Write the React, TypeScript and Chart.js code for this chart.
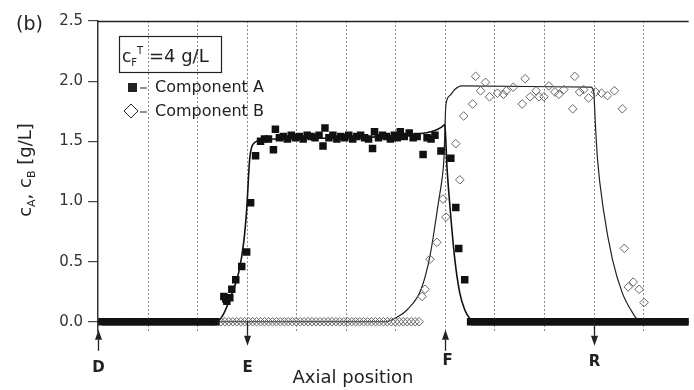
import React, { useEffect, useRef } from "react";
import { Chart, registerables } from "chart.js";

Chart.register(...registerables);

// Axis ranges (x in axial-position units, one unit per grid column)
const X_MIN = 0;
const X_MAX = 11.92;
const Y_MIN = -0.085;
const Y_MAX = 2.5;
const yTickValues = [0, 0.5, 1.0, 1.5, 2.0, 2.5];
const xGridValues = [1, 2, 3, 4, 5, 6, 7, 8, 9, 10, 11];

// Port markers below the axis
const portLabels = ["D", "E", "F", "R"];
const portPositions = [0, 3, 7, 10];
const portDirections = ["up", "down", "up", "down"];

// Component A measurements: zero readings ahead of and behind the band
const aZeroLeftX = [0.08, 0.16, 0.24, 0.32, 0.4, 0.48, 0.56, 0.64, 0.72, 0.8, 0.88, 0.96, 1.04, 1.12, 1.2, 1.28, 1.36, 1.44, 1.52, 1.6, 1.68, 1.76, 1.84, 1.92, 2.0, 2.08, 2.16, 2.24, 2.32, 2.38];
const aZeroRightX = [7.52, 7.6, 7.68, 7.76, 7.84, 7.92, 8.0, 8.08, 8.16, 8.24, 8.32, 8.4, 8.48, 8.56, 8.64, 8.72, 8.8, 8.88, 8.96, 9.04, 9.12, 9.2, 9.28, 9.36, 9.44, 9.52, 9.6, 9.68, 9.76, 9.84, 9.92, 10.0, 10.08, 10.16, 10.24, 10.32, 10.4, 10.48, 10.56, 10.64, 10.72, 10.8, 10.88, 10.96, 11.04, 11.12, 11.2, 11.28, 11.36, 11.44, 11.52, 11.6, 11.68, 11.76, 11.84, 11.92];
// Component A measurements inside the band
const aBandX = [2.54, 2.58, 2.6, 2.66, 2.7, 2.78, 2.9, 3.0, 3.08, 3.18, 3.28, 3.36, 3.44, 3.54, 3.58, 3.66, 3.74, 3.82, 3.9, 3.98, 4.06, 4.14, 4.22, 4.3, 4.38, 4.46, 4.54, 4.58, 4.66, 4.74, 4.82, 4.9, 4.98, 5.06, 5.14, 5.22, 5.3, 5.38, 5.46, 5.54, 5.58, 5.66, 5.74, 5.82, 5.9, 5.98, 6.04, 6.1, 6.18, 6.28, 6.36, 6.44, 6.56, 6.64, 6.72, 6.8, 6.92, 7.12, 7.22, 7.28, 7.4];
const aBandY = [0.21, 0.19, 0.17, 0.2, 0.27, 0.35, 0.46, 0.58, 0.99, 1.38, 1.5, 1.52, 1.52, 1.43, 1.6, 1.53, 1.54, 1.52, 1.55, 1.53, 1.54, 1.52, 1.55, 1.54, 1.53, 1.55, 1.46, 1.61, 1.53, 1.55, 1.52, 1.54, 1.53, 1.55, 1.52, 1.54, 1.55, 1.53, 1.52, 1.44, 1.58, 1.53, 1.55, 1.54, 1.52, 1.55, 1.53, 1.58, 1.54, 1.57, 1.53, 1.54, 1.39, 1.53, 1.52, 1.55, 1.42, 1.36, 0.95, 0.61, 0.35];

// Component B measurements
const bZeroX = [2.48, 2.56, 2.64, 2.72, 2.8, 2.88, 2.96, 3.04, 3.12, 3.2, 3.28, 3.36, 3.44, 3.52, 3.6, 3.68, 3.76, 3.84, 3.92, 4.0, 4.08, 4.16, 4.24, 4.32, 4.4, 4.48, 4.56, 4.64, 4.72, 4.8, 4.88, 4.96, 5.04, 5.12, 5.2, 5.28, 5.36, 5.44, 5.52, 5.6, 5.68, 5.76, 5.84, 5.92, 6.0, 6.08, 6.16, 6.24, 6.32, 6.4, 6.48];
const bBandX = [6.54, 6.6, 6.7, 6.84, 6.96, 7.02, 7.22, 7.3, 7.38, 7.56, 7.62, 7.72, 7.82, 7.9, 8.06, 8.18, 8.24, 8.38, 8.56, 8.62, 8.72, 8.84, 8.9, 9.0, 9.1, 9.22, 9.3, 9.4, 9.58, 9.62, 9.72, 9.8, 9.9, 10.04, 10.16, 10.28, 10.42, 10.58, 10.62, 10.7, 10.8, 10.92, 11.02];
const bBandY = [0.21, 0.27, 0.52, 0.66, 1.02, 0.87, 1.48, 1.18, 1.71, 1.81, 2.04, 1.92, 1.99, 1.87, 1.9, 1.89, 1.92, 1.95, 1.81, 2.02, 1.87, 1.92, 1.87, 1.87, 1.96, 1.91, 1.89, 1.93, 1.77, 2.04, 1.91, 1.93, 1.86, 1.91, 1.9, 1.88, 1.92, 1.77, 0.61, 0.29, 0.33, 0.27, 0.16];

// Model profiles
const aModelX = [0, 2.34, 2.46, 2.54, 2.68, 2.84, 2.94, 3.0, 3.06, 3.1, 3.16, 3.28, 3.64, 5.04, 6.44, 6.8, 6.94, 7.0, 7.04, 7.08, 7.2, 7.3, 7.4, 7.5, 7.6, 11.92];
const aModelY = [0, 0, 0.02, 0.07, 0.21, 0.41, 0.66, 0.93, 1.35, 1.45, 1.49, 1.51, 1.52, 1.53, 1.56, 1.59, 1.62, 1.64, 1.3, 1.07, 0.52, 0.24, 0.1, 0.03, 0, 0];
const bModelX = [0, 5.8, 6.04, 6.24, 6.52, 6.7, 6.88, 6.94, 6.98, 7.02, 7.1, 7.2, 7.34, 9.94, 10.0, 10.04, 10.08, 10.2, 10.38, 10.58, 10.78, 10.94, 11.92];
const bModelY = [0, 0, 0.04, 0.1, 0.27, 0.55, 1.02, 1.18, 1.35, 1.8, 1.88, 1.93, 1.96, 1.95, 1.92, 1.62, 1.35, 0.93, 0.52, 0.24, 0.08, 0, 0];

const FONT = "'DejaVu Sans', sans-serif";
const INK = "#222";

type Part = { t: string; size: number; dy?: number; bold?: boolean };

function richWidth(ctx: CanvasRenderingContext2D, parts: Part[]) {
  let w = 0;
  for (const p of parts) {
    ctx.font = `${p.bold ? "bold " : ""}${p.size}px ${FONT}`;
    w += ctx.measureText(p.t).width;
  }
  return w;
}

function drawRich(ctx: CanvasRenderingContext2D, parts: Part[], x: number, y: number, align: "left" | "center") {
  let cx = align === "center" ? x - richWidth(ctx, parts) / 2 : x;
  ctx.textAlign = "left";
  ctx.textBaseline = "alphabetic";
  for (const p of parts) {
    ctx.font = `${p.bold ? "bold " : ""}${p.size}px ${FONT}`;
    ctx.fillText(p.t, cx, y + (p.dy || 0));
    cx += ctx.measureText(p.t).width;
  }
}

const zip = (xs: number[], ys: number[]) => xs.map((x, i) => ({ x, y: ys[i] }));
const zeros = (xs: number[]) => xs.map((x) => ({ x, y: 0 }));

const decorPlugin = {
  id: "decor",
  beforeDatasetsDraw(chart: any) {
    const { ctx, chartArea, scales } = chart;
    const xs = scales.x;
    ctx.save();
    ctx.strokeStyle = "#8a8a8a";
    ctx.lineWidth = 1;
    ctx.setLineDash([2, 2]);
    for (const v of xGridValues) {
      const px = Math.round(xs.getPixelForValue(v)) + 0.5;
      ctx.beginPath();
      ctx.moveTo(px, chartArea.top);
      ctx.lineTo(px, chartArea.bottom);
      ctx.stroke();
    }
    ctx.restore();
  },
  afterDraw(chart: any) {
    const { ctx, chartArea, scales } = chart;
    const xs = scales.x;
    const ys = scales.y;
    ctx.save();
    ctx.fillStyle = INK;
    ctx.strokeStyle = INK;

    // frame line along the top of the plot
    const topY = Math.round(ys.getPixelForValue(Y_MAX)) + 0.5;
    ctx.lineWidth = 1.5;
    ctx.beginPath();
    ctx.moveTo(chartArea.left, topY);
    ctx.lineTo(chartArea.right, topY);
    ctx.stroke();

    // panel letter
    ctx.font = `19px ${FONT}`;
    ctx.textAlign = "left";
    ctx.textBaseline = "middle";
    ctx.fillText("(b)", 16, 25);

    // feed concentration box
    ctx.lineWidth = 1.2;
    ctx.strokeRect(119.5, 36.5, 102, 36);
    drawRich(ctx, [
      { t: "c", size: 17 },
      { t: "F", size: 10, dy: 4 },
      { t: "T", size: 10, dy: -8 },
      { t: " =4 g/L", size: 18 },
    ], 122, 62, "left");

    // legend entries
    const zeroY = ys.getPixelForValue(0);
    ctx.lineWidth = 1;
    ctx.fillRect(128, 83, 9, 9);
    ctx.beginPath();
    ctx.moveTo(140, 88);
    ctx.lineTo(147, 88);
    ctx.stroke();
    ctx.beginPath();
    ctx.moveTo(131, 104);
    ctx.lineTo(138, 111);
    ctx.lineTo(131, 118);
    ctx.lineTo(124, 111);
    ctx.closePath();
    ctx.stroke();
    ctx.beginPath();
    ctx.moveTo(140, 112);
    ctx.lineTo(147, 112);
    ctx.stroke();
    ctx.font = `16px ${FONT}`;
    ctx.textBaseline = "middle";
    ctx.fillText("Component A", 155, 88);
    ctx.fillText("Component B", 155, 112);

    // port arrows and letters
    portPositions.forEach((pos, i) => {
      const px = Math.round(xs.getPixelForValue(pos)) + 0.5;
      const up = portDirections[i] === "up";
      const tip = up ? zeroY + 8 : zeroY + 24;
      const tail = up ? zeroY + 29 : zeroY;
      const base = up ? tip + 10 : tip - 10;
      ctx.lineWidth = 1.3;
      ctx.beginPath();
      ctx.moveTo(px, tail);
      ctx.lineTo(px, base);
      ctx.stroke();
      ctx.beginPath();
      ctx.moveTo(px, tip);
      ctx.lineTo(px - 3.5, base);
      ctx.lineTo(px + 3.5, base);
      ctx.closePath();
      ctx.fill();
      ctx.font = `bold 15px ${FONT}`;
      ctx.textAlign = "center";
      ctx.textBaseline = "middle";
      ctx.fillText(portLabels[i], px + (i === 2 ? 2 : 0), up && i > 0 ? 361 : i < 2 ? 368 : 362);
    });

    // axis titles
    ctx.font = `18px ${FONT}`;
    ctx.textAlign = "center";
    ctx.textBaseline = "middle";
    ctx.fillText("Axial position", 353, 378);

    ctx.translate(31, 170);
    ctx.rotate(-Math.PI / 2);
    drawRich(ctx, [
      { t: "c", size: 18 },
      { t: "A", size: 11, dy: 4 },
      { t: ", c", size: 18 },
      { t: "B", size: 11, dy: 4 },
      { t: " [g/L]", size: 18 },
    ], 0, 0, "center");
    ctx.restore();
  },
};

export default function App() {
  const canvasRef = useRef<HTMLCanvasElement | null>(null);

  useEffect(() => {
    const canvas = canvasRef.current;
    if (!canvas) return;
    const squares = { pointStyle: "rect", pointRadius: 5.3, backgroundColor: "#111", borderWidth: 0, showLine: false };
    const diamonds = { pointStyle: "rectRot", pointRadius: 4.3, backgroundColor: "rgba(0,0,0,0)", borderColor: "#666", borderWidth: 1, showLine: false };
    const chart = new Chart(canvas, {
      type: "scatter",
      data: {
        datasets: [
          { label: "Component A", data: [...zeros(aZeroLeftX), ...zip(aBandX, aBandY), ...zeros(aZeroRightX)], ...squares } as any,
          { label: "Component B", data: [...zeros(bZeroX), ...zip(bBandX, bBandY)], ...diamonds } as any,
          { type: "line", label: "A model", data: zip(aModelX, aModelY), borderColor: "#111", borderWidth: 1.6, pointRadius: 0, cubicInterpolationMode: "monotone", showLine: true, fill: false } as any,
          { type: "line", label: "B model", data: zip(bModelX, bModelY), borderColor: "#222", borderWidth: 1.2, pointRadius: 0, cubicInterpolationMode: "monotone", showLine: true, fill: false } as any,
        ],
      },
      options: {
        animation: false,
        responsive: false,
        events: [],
        layout: { padding: { left: 0, right: 0, top: 21, bottom: 58 } },
        plugins: { legend: { display: false }, tooltip: { enabled: false }, title: { display: false } },
        scales: {
          x: {
            type: "linear",
            min: X_MIN,
            max: X_MAX,
            grid: { display: false },
            border: { display: false },
            ticks: { display: false },
            afterFit: (s: any) => { s.height = 0; },
          },
          y: {
            type: "linear",
            min: Y_MIN,
            max: Y_MAX,
            afterBuildTicks: (s: any) => { s.ticks = yTickValues.map((value) => ({ value })); },
            afterFit: (s: any) => { s.width = 98; },
            grid: { drawOnChartArea: false, drawTicks: true, tickLength: 10, color: "#444", lineWidth: 1.2 },
            border: { display: true, color: "#333", width: 1.5 },
            ticks: {
              padding: 5,
              color: "#333",
              font: { family: FONT, size: 15 },
              callback: (v: any) => Number(v).toFixed(1),
            },
          },
        },
      } as any,
      plugins: [decorPlugin],
    });
    return () => chart.destroy();
  }, []);

  return (
    <div style={{ position: "absolute", left: 0, top: 0, width: 694, height: 390, background: "#fff" }}>
      <canvas ref={canvasRef} width={694} height={390} />
    </div>
  );
}
